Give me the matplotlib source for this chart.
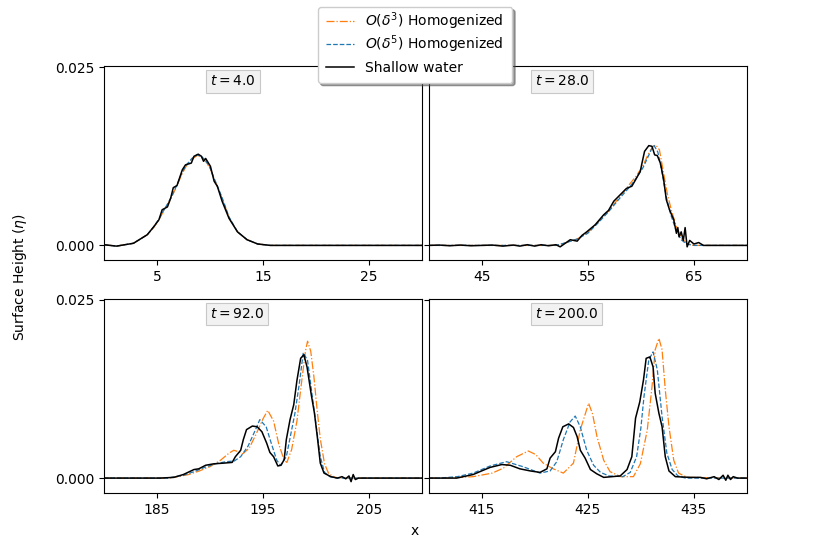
import matplotlib
matplotlib.use("Agg")
import matplotlib.pyplot as plt

# ---------------- data ----------------
times = ["4.0", "28.0", "92.0", "200.0"]
xlims = [(0, 30), (40, 70), (180, 210), (410, 440)]
xticks = [[5, 15, 25], [45, 55, 65], [185, 195, 205], [415, 425, 435]]
yticks = [0.0, 0.025]
ytick_labels = ["0.000", "0.025"]
labels = [r"$O(\delta^3)$ Homogenized", r"$O(\delta^5)$ Homogenized", "Shallow water"]
placeholder_labels = ["O(δ3) Homogenized", "O(δ5) Homogenized", "Shallow water"]

# t = 4.0
x_sw_a = [0, 1.2, 2.8, 4.1, 4.7, 5.2, 5.5, 6.0, 6.3, 6.55, 6.9, 7.4, 7.7, 8.25, 8.5, 8.9, 9.2,
          9.4, 9.6, 10.05, 10.4, 10.7, 11.15, 11.8, 12.6, 13.5, 14.5, 15.7, 30]
y_sw_a = [0.0001, -0.0001, 0.0003, 0.0015, 0.0026, 0.0036, 0.0050, 0.0054, 0.0066, 0.0081, 0.0084,
          0.0106, 0.0113, 0.01155, 0.0125, 0.0128, 0.0125, 0.0118, 0.0122, 0.0111, 0.0090, 0.0083,
          0.0062, 0.0038, 0.0019, 0.0008, 0.0002, 0.0, 0.0]
x_h3_a = [0, 1.2, 2.8, 4.1, 4.7, 5.2, 5.6, 6.0, 6.4, 6.9, 7.4, 7.8, 8.3, 8.8, 9.2, 9.6, 10.05,
          10.4, 10.8, 11.2, 11.8, 12.6, 13.5, 14.5, 15.7, 30]
y_h3_a = [0.0001, -0.0001, 0.0003, 0.0015, 0.0025, 0.0036, 0.0047, 0.0057, 0.0068, 0.0084, 0.0101,
          0.0112, 0.0121, 0.0126, 0.0124, 0.0118, 0.0107, 0.0093, 0.0079, 0.0064, 0.0039, 0.0019,
          0.0008, 0.0002, 0.0, 0.0]
x_h5_a = [0, 1.2, 2.8, 4.1, 4.7, 5.2, 5.6, 6.0, 6.4, 6.9, 7.4, 7.8, 8.3, 8.8, 9.2, 9.6, 10.05,
          10.4, 10.8, 11.2, 11.8, 12.6, 13.5, 14.5, 15.7, 30]
y_h5_a = [0.0001, -0.0001, 0.0003, 0.0015, 0.0026, 0.0037, 0.0048, 0.0058, 0.0069, 0.0085, 0.0103,
          0.0113, 0.0122, 0.0127, 0.0125, 0.0119, 0.0108, 0.0094, 0.0080, 0.0065, 0.0040, 0.0019,
          0.0008, 0.0002, 0.0, 0.0]

# t = 28.0
x_sw_b = [40, 41, 42, 43, 44, 45, 46, 47, 48, 48.6, 49.3, 50, 50.6, 51.3, 52, 52.4, 53.35, 54.0,
          54.45, 54.9, 55.7, 56.5, 56.95, 57.45, 58.05, 58.65, 59.15, 59.5, 59.95, 60.1, 60.35,
          60.75, 61.05, 61.3, 61.55, 61.85, 62.15, 62.4, 62.7, 63.1, 63.35, 63.48, 63.6, 63.8,
          64.0, 64.17, 64.36, 64.6, 65.0, 65.45, 65.9, 70]
y_sw_b = [0, 0.00005, -0.00005, 0.00005, -0.00005, 0, 0.00005, -0.0001, 0.00005, -0.0001, 0.0001,
          -0.0001, 0.0001, -0.00005, 0.0001, -0.0002, 0.0008, 0.0006, 0.0014, 0.0019, 0.0029, 0.0043,
          0.0049, 0.0062, 0.0071, 0.0080, 0.0083, 0.0092, 0.0104, 0.0115, 0.0132, 0.0140, 0.0139,
          0.0127, 0.0126, 0.0115, 0.0092, 0.0064, 0.0050, 0.0036, 0.0017, 0.0025, 0.0012, 0.0019,
          0.0007, 0.0025, -0.0002, 0.0007, 0.0002, 0.0004, 0.0, 0.0]
x_h3_b = [40, 52, 53, 54, 55, 56, 57, 58, 59, 59.6, 60.2, 60.7, 61.1, 61.4, 61.75, 62.1, 62.5,
          62.9, 63.4, 63.9, 64.4, 65, 70]
y_h3_b = [0, 0, 0.0004, 0.0009, 0.0018, 0.0033, 0.0049, 0.0068, 0.0087, 0.0098, 0.0112, 0.0128,
          0.0138, 0.0141, 0.0134, 0.0105, 0.0072, 0.0048, 0.0024, 0.0009, 0.0002, 0.0, 0.0]
x_h5_b = [40, 52, 53, 54, 55, 56, 57, 58, 59, 59.6, 60.2, 60.7, 61.0, 61.25, 61.6, 62.0, 62.4,
          62.8, 63.3, 63.8, 64.3, 65, 70]
y_h5_b = [0, 0, 0.0004, 0.0009, 0.0017, 0.0032, 0.0048, 0.0066, 0.0083, 0.0095, 0.0109, 0.0125,
          0.0135, 0.0140, 0.0131, 0.0102, 0.0068, 0.0044, 0.0022, 0.0008, 0.0002, 0.0, 0.0]

# t = 92.0
x_sw_c = [180, 185.3, 186.6, 187.5, 188.5, 188.95, 189.6, 190.35, 191.3, 192.1, 192.4, 192.9,
          193.15, 193.45, 194.0, 194.45, 194.9, 195.35, 195.65, 196.0, 196.4, 196.7, 197.0, 197.2,
          197.55, 197.9, 198.2, 198.55, 198.85, 199.15, 199.55, 199.85, 200.15, 200.4, 200.75,
          201.4, 202.0, 202.45, 202.8, 203.1, 203.3, 203.5, 203.7, 204.0, 210]
y_sw_c = [0, 0, 0.0001, 0.0005, 0.0012, 0.0013, 0.0018, 0.0020, 0.0021, 0.0022, 0.0030, 0.0039,
          0.0054, 0.0068, 0.0073, 0.0072, 0.0065, 0.0049, 0.0036, 0.0030, 0.0017, 0.0018, 0.0026,
          0.0054, 0.0082, 0.0103, 0.0137, 0.0168, 0.0173, 0.0156, 0.0117, 0.0091, 0.0054, 0.0021,
          0.0007, 0.0002, 0.0, 0.0002, -0.0001, 0.0003, -0.0005, 0.0005, -0.0002, 0.0, 0.0]
x_h3_c = [180, 186, 187, 188, 189, 190, 191, 191.8, 192.25, 192.7, 193.1, 193.7, 194.3, 195.0,
          195.45, 196.0, 196.5, 197.0, 197.25, 197.7, 198.2, 198.6, 199.0, 199.2, 199.5, 199.8,
          200.1, 200.4, 200.8, 201.2, 201.8, 202.5, 210]
y_h3_c = [0, 0, 0.0002, 0.0005, 0.0010, 0.0016, 0.0025, 0.0035, 0.0039, 0.0037, 0.0034, 0.0042,
          0.0060, 0.0083, 0.0095, 0.0080, 0.0047, 0.0025, 0.0022, 0.0040, 0.0080, 0.0130, 0.0178,
          0.0192, 0.0178, 0.0142, 0.0096, 0.0055, 0.0020, 0.0006, 0.0001, 0, 0]
x_h5_c = [180, 186, 187.5, 188.5, 189.5, 190.5, 191.5, 192.3, 192.9, 193.6, 194.3, 194.7, 195.3,
          195.8, 196.3, 196.65, 197.2, 197.6, 198.0, 198.4, 198.8, 199.2, 199.6, 200.0, 200.4,
          200.8, 201.3, 202, 210]
y_h5_c = [0, 0, 0.0004, 0.0009, 0.0015, 0.0020, 0.0023, 0.0024, 0.0030, 0.0045, 0.0068, 0.0082,
          0.0072, 0.0048, 0.0025, 0.0018, 0.0030, 0.0060, 0.0090, 0.0130, 0.0176, 0.0165, 0.0120,
          0.0075, 0.0030, 0.0008, 0.0002, 0, 0]

# t = 200.0
x_sw_d = [410, 412.65, 414.2, 415.15, 415.8, 416.9, 417.7, 418.6, 419.6, 420.5, 421.15, 421.45,
          421.95, 422.25, 422.65, 423.2, 423.65, 424.0, 424.3, 424.75, 425.25, 425.85, 426.5,
          428.05, 428.7, 429.15, 429.5, 429.9, 430.25, 430.5, 430.85, 431.15, 431.35, 431.7, 432.0,
          432.3, 432.65, 433.25, 434.65, 435.6, 436.2, 436.9, 437.35, 437.75, 438.0, 438.2,
          438.45, 438.7, 439.1, 440]
y_sw_d = [0, 0, 0.0005, 0.0011, 0.0015, 0.0019, 0.0018, 0.0013, 0.0010, 0.0008, 0.0013, 0.0028,
          0.0037, 0.0056, 0.0072, 0.0076, 0.0071, 0.0058, 0.0039, 0.0028, 0.0012, 0.0006, 0.0001,
          0.0003, 0.0012, 0.0030, 0.0084, 0.0107, 0.0138, 0.0168, 0.0170, 0.0156, 0.0119, 0.0091,
          0.0072, 0.0030, 0.0010, 0.0002, 0.0001, 0.0001, -0.0001, 0.0002, -0.0002, 0.0004,
          -0.0003, 0.0004, -0.0002, 0.0002, 0.0, 0.0]
x_h3_d = [410, 411, 413, 414.2, 416, 417.05, 418.3, 419.4, 420.1, 420.8, 421.75, 422.7, 423.65,
          424.3, 425.08, 425.45, 425.87, 426.5, 427.1, 428.1, 429.3, 429.95, 430.6, 431.05,
          431.35, 431.7, 432.0, 432.3, 432.65, 433.1, 433.55, 434.35, 440]
y_h3_d = [0, 0, 0.0001, 0.0002, 0.0007, 0.0014, 0.0030, 0.0038, 0.0033, 0.0021, 0.0013, 0.0007,
          0.0021, 0.0068, 0.0105, 0.0090, 0.0058, 0.0025, 0.0009, 0.0002, 0.0002, 0.0020, 0.0067,
          0.0128, 0.0180, 0.0196, 0.0180, 0.0124, 0.0072, 0.0025, 0.0007, 0.0001, 0]
x_h5_d = [410, 411, 412.7, 414.2, 415.8, 417.35, 418.9, 420.5, 421.45, 422.08, 422.7, 423.34,
          423.82, 424.29, 424.9, 425.55, 426.2, 427.0, 428.3, 429.0, 429.6, 430.0, 430.3, 430.75,
          431.15, 431.55, 432.0, 432.45, 432.95, 433.5, 434.2, 440]
y_h5_d = [0, 0, 0.0002, 0.0007, 0.0017, 0.0023, 0.0016, 0.0007, 0.0010, 0.0023, 0.0054, 0.0079,
          0.0087, 0.0072, 0.0039, 0.0018, 0.0008, 0.0003, 0.0002, 0.0008, 0.0030, 0.0070, 0.0115,
          0.0166, 0.0177, 0.0152, 0.0086, 0.0035, 0.0012, 0.0003, 0.0, 0.0]

panels = [
    (x_h3_a, y_h3_a, x_h5_a, y_h5_a, x_sw_a, y_sw_a),
    (x_h3_b, y_h3_b, x_h5_b, y_h5_b, x_sw_b, y_sw_b),
    (x_h3_c, y_h3_c, x_h5_c, y_h5_c, x_sw_c, y_sw_c),
    (x_h3_d, y_h3_d, x_h5_d, y_h5_d, x_sw_d, y_sw_d),
]

# ---------------- figure ----------------
fig, axes = plt.subplots(2, 2, figsize=(8.3, 5.54), dpi=100, sharey=True)
fig.subplots_adjust(left=0.125, right=0.9, top=0.88, bottom=0.11, wspace=0.02, hspace=0.2)

handles = None
for ax, (xh3, yh3, xh5, yh5, xsw, ysw), t, xl, xt in zip(axes.flat, panels, times, xlims, xticks):
    l1, = ax.plot(xh3, yh3, color="C1", linestyle="-.", linewidth=0.9)
    l2, = ax.plot(xh5, yh5, color="C0", linestyle="--", linewidth=0.9)
    l3, = ax.plot(xsw, ysw, color="black", linestyle="-", linewidth=1.1)
    handles = [l1, l2, l3]
    ax.set_xlim(*xl)
    ax.set_xticks(xt)
    ax.set_ylim(-0.0021, 0.0251)
    ax.set_yticks(yticks)
    ax.set_yticklabels(ytick_labels)
    ax.text(0.334, 0.959, r"$t = %s$" % t, transform=ax.transAxes, ha="left", va="top",
            fontsize=10,
            bbox=dict(boxstyle="square,pad=0.3", facecolor="#f2f2f2", edgecolor="#c8c8c8",
                      linewidth=0.8))

# legend laid out with plain placeholder labels (even row spacing), math labels drawn on top
leg = fig.legend(handles, placeholder_labels, loc="upper center", bbox_to_anchor=(0.5, 1.0),
                 shadow=True, fancybox=True, fontsize=10, labelspacing=0.62, borderpad=0.6)
leg_texts = leg.get_texts()
swap = [txt for txt, lab in zip(leg_texts, labels) if lab != txt.get_text()]
fig.canvas.draw()
W, H = fig.canvas.get_width_height()
for txt, lab in zip(leg_texts, labels):
    if txt in swap:
        px, py = txt.get_transform().transform(txt.get_position())
        txt.set_visible(False)
        fig.text(px / W, py / H, lab, ha="left", va="baseline", fontsize=10, zorder=10)

fig.text(0.5, 0.041, "x", ha="center", va="center", fontsize=10)
fig.text(0.024, 0.5, r"Surface Height ($\eta$)", ha="center", va="center",
         rotation=90, fontsize=10)

fig.savefig("out.png", dpi=100)
